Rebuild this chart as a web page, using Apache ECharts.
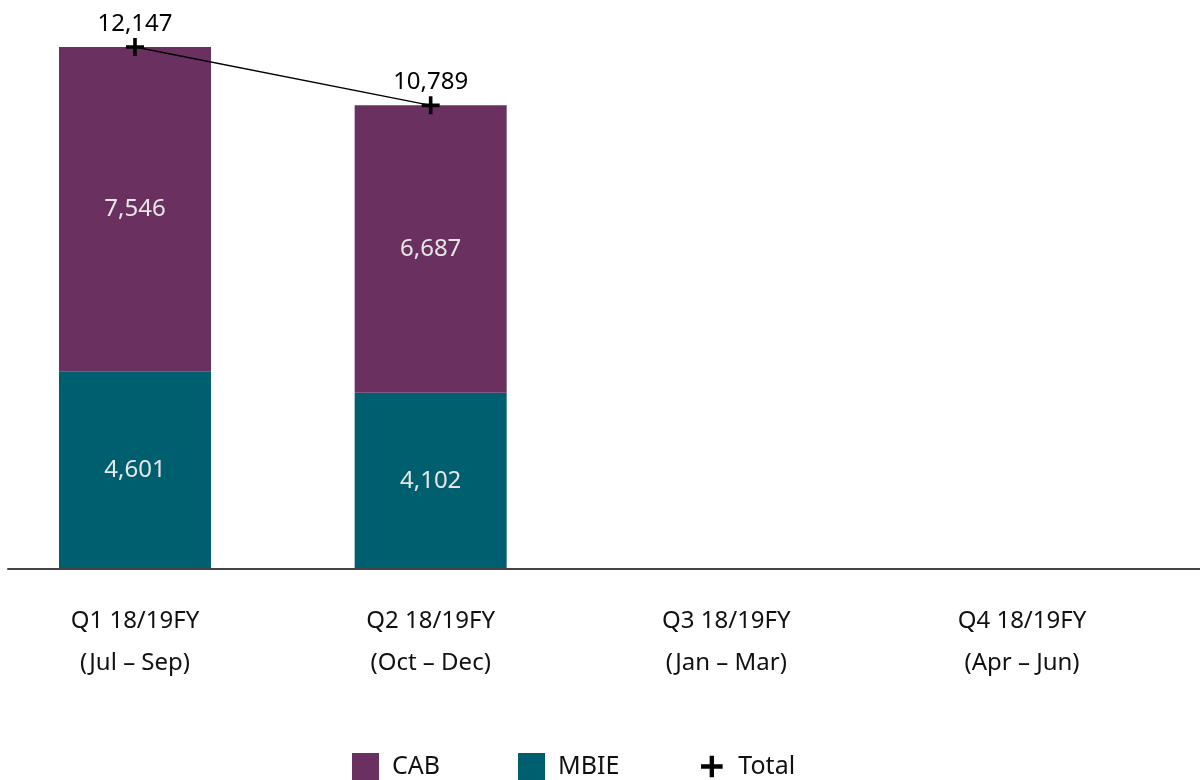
<!DOCTYPE html>
<html>
<head>
<meta charset="utf-8">
<script src="https://cdn.jsdelivr.net/npm/echarts@6/dist/echarts.min.js"></script>
<style>html,body{margin:0;padding:0;background:#fff}#c{width:1200px;height:780px}</style>
</head>
<body>
<div id="c"></div>
<script>
const categories = ['Q1 18/19FY\n(Jul – Sep)', 'Q2 18/19FY\n(Oct – Dec)', 'Q3 18/19FY\n(Jan – Mar)', 'Q4 18/19FY\n(Apr – Jun)'];
const mbie = [4601, 4102, null, null];
const cab = [7546, 6687, null, null];
const total = [12147, 10789, null, null];

const PLUS = 'path://M4,0h2v4h4v2h-4v4h-2v-4h-4v-2h4z';
const FONT = '"Noto Sans", "Open Sans", sans-serif';
const fmt = p => p.value == null ? '' : p.value.toLocaleString('en-US');
const chart = echarts.init(document.getElementById('c'), null, {renderer: 'canvas'});
chart.setOption({
  animation: false,
  textStyle: {fontFamily: FONT},
  legend: {
    left: 352, top: 753, padding: 0,
    itemWidth: 27, itemHeight: 27, itemGap: 78,
    textStyle: {fontSize: 25, color: '#111', fontFamily: FONT, padding: [6, 0, 0, 8]},
    data: [
      {name: 'CAB', icon: 'rect'},
      {name: 'MBIE', icon: 'rect'},
      {name: 'Total', lineStyle: {opacity: 0}, itemStyle: {color: '#000'}}
    ]
  },
  grid: [
    {left: 135, right: 178, top: 10.34, bottom: 211, containLabel: false},
    {left: 8, right: 0, top: 10.34, bottom: 211}
  ],
  xAxis: [
    {
      type: 'category', data: categories, gridIndex: 0, boundaryGap: false,
      axisLine: {show: false}, axisTick: {show: false},
      axisLabel: {fontSize: 24, color: '#111', lineHeight: 42, margin: 31, fontFamily: FONT,
        interval: 0, showMinLabel: true, showMaxLabel: true}
    },
    {
      type: 'value', gridIndex: 1, min: 0, max: 1,
      axisLine: {show: true, lineStyle: {color: '#444', width: 2}},
      axisTick: {show: false}, axisLabel: {show: false}, splitLine: {show: false}, z: 10
    }
  ],
  yAxis: [
    {type: 'value', gridIndex: 0, min: 0, max: 13000, show: false, splitLine: {show: false}},
    {type: 'value', gridIndex: 1, show: false}
  ],
  series: [
    {
      name: 'MBIE', type: 'bar', stack: 's', data: mbie, barWidth: 152, clip: false,
      itemStyle: {color: '#005F6F'},
      label: {show: true, position: 'inside', color: '#E6E6E6', fontSize: 24, fontFamily: FONT, formatter: fmt}
    },
    {
      name: 'CAB', type: 'bar', stack: 's', data: cab, barWidth: 152, clip: false,
      itemStyle: {color: '#6A3060'},
      label: {show: true, position: 'inside', color: '#E6E6E6', fontSize: 24, fontFamily: FONT, formatter: fmt}
    },
    {
      name: 'Total', type: 'line', data: total, z: 5, clip: false,
      symbol: PLUS, symbolSize: 18,
      itemStyle: {color: '#000'},
      lineStyle: {color: '#000', width: 1.3},
      label: {show: true, position: 'top', distance: 2, color: '#000', fontSize: 24, fontFamily: FONT, formatter: fmt}
    }
  ]
});
</script>
</body>
</html>
